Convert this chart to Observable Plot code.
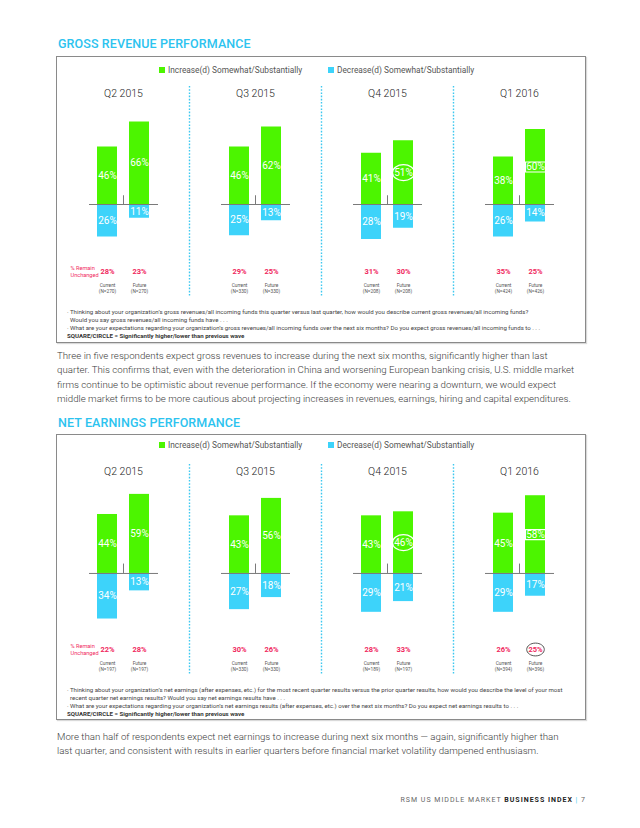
<!DOCTYPE html>
<html><head><meta charset="utf-8">
<script src="https://cdn.jsdelivr.net/npm/d3@7"></script>
<script src="https://cdn.jsdelivr.net/npm/@observablehq/plot@0.6"></script>
<style>
body{margin:0;background:#fff;font-family:Roboto,"Open Sans",sans-serif;}
#page{position:relative;width:640px;height:828px;overflow:hidden;background:#fff}
.title{position:absolute;left:58px;font-size:12.5px;font-weight:500;color:#2cc3ef;line-height:14px;white-space:nowrap;letter-spacing:0.1px}
.box{position:absolute;left:56px;width:530px;box-sizing:border-box;border:1.4px solid #8a8a8a;box-shadow:1px 1px 1px rgba(0,0,0,0.15)}
.legend{position:absolute;font-size:8.3px;color:#555;line-height:10px;white-space:nowrap}
.sw{display:inline-block;width:6px;height:6px;margin-right:3px;vertical-align:0px}
.chart{position:absolute;left:0;}
.notes{position:absolute;left:10px;font-size:6.1px;line-height:8px;color:#444;white-space:nowrap}
.notes b{color:#333}
.para{position:absolute;left:57px;font-size:9.7px;font-weight:300;line-height:14.4px;color:#3a3a3a;white-space:nowrap}
.footer{position:absolute;right:54px;top:795px;font-size:7px;line-height:10px;letter-spacing:1px;color:#666;white-space:nowrap}
.footer b{color:#222;font-weight:700}
.footer .bar{color:#3cc8f0}
</style>
</head><body>
<div id="page">
  <div class="title" style="top:37px">GROSS REVENUE PERFORMANCE</div>
  <div class="box" style="top:56px;height:287px">
    <div class="legend" style="left:102px;top:8px"><span class="sw" style="background:#4cf500"></span>Increase(d) Somewhat/Substantially</div>
    <div class="legend" style="left:271px;top:8px"><span class="sw" style="background:#3dd3fa"></span>Decrease(d) Somewhat/Substantially</div>
    <div class="chart" id="chart1" style="top:24px"></div>
    <div class="notes" style="top:251px">· Thinking about your organization’s gross revenues/all incoming funds this quarter versus last quarter, how would you describe current gross revenues/all incoming funds?<br>&nbsp;&nbsp;Would you say gross revenues/all incoming funds have . . .<br>· What are your expectations regarding your organization’s gross revenues/all incoming funds over the next six months? Do you expect gross revenues/all incoming funds to . . .<br><b>SQUARE/CIRCLE = Significantly higher/lower than previous wave</b></div>
  </div>
  <div class="para" style="top:349px">Three in five respondents expect gross revenues to increase during the next six months, significantly higher than last<br>quarter. This confirms that, even with the deterioration in China and worsening European banking crisis, U.S. middle market<br>firms continue to be optimistic about revenue performance. If the economy were nearing a downturn, we would expect<br>middle market firms to be more cautious about projecting increases in revenues, earnings, hiring and capital expenditures.</div>
  <div class="title" style="top:416px">NET EARNINGS PERFORMANCE</div>
  <div class="box" style="top:434px;height:286px">
    <div class="legend" style="left:102px;top:5px"><span class="sw" style="background:#4cf500"></span>Increase(d) Somewhat/Substantially</div>
    <div class="legend" style="left:271px;top:5px"><span class="sw" style="background:#3dd3fa"></span>Decrease(d) Somewhat/Substantially</div>
    <div class="chart" id="chart2" style="top:24px"></div>
    <div class="notes" style="top:251px">· Thinking about your organization’s net earnings (after expenses, etc.) for the most recent quarter results versus the prior quarter results, how would you describe the level of your most<br>&nbsp;&nbsp;recent quarter net earnings results? Would you say net earnings results have . . .<br>· What are your expectations regarding your organization’s net earnings results (after expenses, etc.) over the next six months? Do you expect net earnings results to . . .<br><b>SQUARE/CIRCLE = Significantly higher/lower than previous wave</b></div>
  </div>
  <div class="para" style="top:730px">More than half of respondents expect net earnings to increase during next six months — again, significantly higher than<br>last quarter, and consistent with results in earlier quarters before financial market volatility dampened enthusiasm.</div>
  <div class="footer">RSM US MIDDLE MARKET <b>BUSINESS INDEX</b> <span class="bar">|</span> 7</div>
</div>
<script>
const quarters = ["Q2 2015", "Q3 2015", "Q4 2015", "Q1 2016"];
const periods = ["Current", "Future"];

const revIncrease  = [[46, 66], [46, 62], [41, 51], [38, 60]];
const revDecrease  = [[26, 11], [25, 13], [28, 19], [26, 14]];
const revUnchanged = [[28, 23], [29, 25], [31, 30], [35, 25]];
const revN         = [[270, 270], [330, 330], [208, 208], [424, 426]];
const revFlags = [
  {quarter: "Q4 2015", period: "Future", series: "increase", shape: "circle"},
  {quarter: "Q1 2016", period: "Future", series: "increase", shape: "square"}
];

const earnIncrease  = [[44, 59], [43, 56], [43, 46], [45, 58]];
const earnDecrease  = [[34, 13], [27, 18], [29, 21], [29, 17]];
const earnUnchanged = [[22, 28], [30, 26], [28, 33], [26, 25]];
const earnN         = [[197, 197], [330, 330], [189, 197], [394, 396]];
const earnFlags = [
  {quarter: "Q4 2015", period: "Future", series: "increase", shape: "circle"},
  {quarter: "Q1 2016", period: "Future", series: "increase", shape: "square"},
  {quarter: "Q1 2016", period: "Future", series: "unchanged", shape: "circle"}
];

const GREEN = "#4cf500", BLUE = "#3dd3fa", CYAN = "#3cc8f0", RED = "#f0285e";

const ellipse = {draw(ctx, size) {
  const r = Math.sqrt(size / Math.PI), rx = r * 1.1, ry = r * 0.8, k = 0.5523;
  ctx.moveTo(rx, 0);
  ctx.bezierCurveTo(rx, ry * k, rx * k, ry, 0, ry);
  ctx.bezierCurveTo(-rx * k, ry, -rx, ry * k, -rx, 0);
  ctx.bezierCurveTo(-rx, -ry * k, -rx * k, -ry, 0, -ry);
  ctx.bezierCurveTo(rx * k, -ry, rx, -ry * k, rx, 0);
  ctx.closePath();
}};
const rectangle = {draw(ctx, size) {
  const r = Math.sqrt(size / Math.PI);
  ctx.rect(-r, -r * 0.5, 2 * r, r);
}};

function rowsOf(inc, dec, unch, ns) {
  return quarters.flatMap((q, i) => periods.map((p, j) => ({
    quarter: q, period: p, inc: inc[i][j], dec: dec[i][j], unch: unch[i][j], n: ns[i][j]
  })));
}

function draw(id, rows, flags, yDomain) {
  const lookup = f => rows.find(r => r.quarter === f.quarter && r.period === f.period);
  const incFlags = flags.filter(f => f.series === "increase").map(f => ({...f, value: lookup(f).inc}));
  const unchFlags = flags.filter(f => f.series === "unchanged");
  const chart = Plot.plot({
    width: 528, height: 220,
    marginTop: 5, marginBottom: 5, marginLeft: 0, marginRight: 0,
    style: {fontFamily: "Roboto, sans-serif", overflow: "visible", background: "transparent"},
    fx: {domain: quarters, padding: 0, axis: null},
    x: {domain: periods, paddingInner: 0.39, paddingOuter: 1.2, axis: null},
    y: {domain: yDomain, axis: null},
    marks: [
      Plot.ruleX(quarters.slice(0, -1), {fx: d => d, x: null, dx: 66, stroke: CYAN, strokeWidth: 1.4, strokeDasharray: "1.6,1.6"}),
      Plot.barY(rows, {fx: "quarter", x: "period", y: "inc", fill: GREEN}),
      Plot.barY(rows, {fx: "quarter", x: "period", y: d => -d.dec, fill: BLUE}),
      Plot.ruleY([0], {insetLeft: 32, insetRight: 31, stroke: "#7a7a7a", strokeWidth: 1}),
      Plot.ruleX([0], {x: null, y1: 0, y2: 7, stroke: "#7a7a7a", strokeWidth: 1}),
      Plot.text(quarters, {fx: d => d, text: d => d, frameAnchor: "top", lineAnchor: "middle", dy: 7, fontSize: 10.5, fontWeight: 300, fill: "#222"}),
      Plot.text(rows, {fx: "quarter", x: "period", y: d => d.inc / 2, text: d => d.inc + "%", fill: "white", fontSize: 10}),
      Plot.text(rows, {fx: "quarter", x: "period", y: d => -d.dec / 2, text: d => d.dec + "%", fill: "white", fontSize: 10}),
      Plot.dot(incFlags.filter(f => f.shape === "circle"), {fx: "quarter", x: "period", y: d => d.value / 2, r: 10, symbol: ellipse, stroke: "white", strokeWidth: 1.2, fill: "none"}),
      Plot.dot(incFlags.filter(f => f.shape === "square"), {fx: "quarter", x: "period", y: d => d.value / 2, r: 10, symbol: rectangle, stroke: "white", strokeWidth: 1.2, fill: "none"}),
      Plot.text(rows, {fx: "quarter", x: "period", text: d => d.unch + "%", frameAnchor: "bottom", lineAnchor: "middle", dy: -25, fill: RED, fontSize: 7.5, fontWeight: 700}),
      Plot.dot(unchFlags, {fx: "quarter", x: "period", frameAnchor: "bottom", dy: -25, r: 8, symbol: ellipse, stroke: "#555", strokeWidth: 1, fill: "none"}),
      Plot.text(["% Remain\nUnchanged"], {fx: () => quarters[0], x: () => periods[0], text: d => d, frameAnchor: "bottom", lineAnchor: "middle", dy: -25, dx: -37, textAnchor: "start", fill: RED, fontSize: 5.6, lineHeight: 1.3}),
      Plot.text(rows, {fx: "quarter", x: "period", text: "period", frameAnchor: "bottom", lineAnchor: "middle", dy: -11, fill: "#555", fontSize: 4.8}),
      Plot.text(rows, {fx: "quarter", x: "period", text: d => "(N=" + d.n + ")", frameAnchor: "bottom", lineAnchor: "middle", dy: -5, fill: "#555", fontSize: 4.8})
    ]
  });
  document.getElementById(id).appendChild(chart);
}

draw("chart1", rowsOf(revIncrease, revDecrease, revUnchanged, revN), revFlags, [-73.6, 94.4]);
draw("chart2", rowsOf(earnIncrease, earnDecrease, earnUnchanged, earnN), earnFlags, [-75.4, 81.3]);
</script>
</body></html>
